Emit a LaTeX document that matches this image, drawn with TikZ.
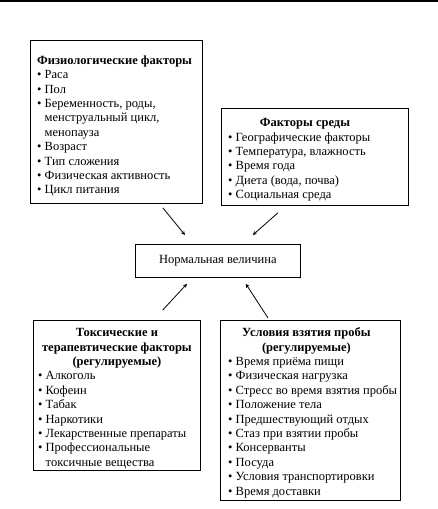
\documentclass[tikz,border=0pt]{standalone}
\usepackage{fontspec}
\setmainfont{Liberation Serif}
\usetikzlibrary{arrows,positioning,calc}

\newcommand{\bul}{\textbullet\ }
\newcommand{\hng}{\phantom{\textbullet\ }}

\begin{document}
\begin{tikzpicture}[x=1pt, y=-1pt,
    box/.style={draw, line width=0.8pt, inner sep=0pt, anchor=north west},
    txt/.style={inner sep=0pt, anchor=north west, align=left, font=\fontsize{12.5}{14.4}\selectfont},
    head/.style={inner sep=0pt, anchor=north, align=center, font=\fontsize{12.5}{14.4}\selectfont\bfseries},
    arrow/.style={->, >=stealth, line width=0.8pt}
]
\useasboundingbox (0,0) rectangle (438,509);

% rule at the top of the page
\draw[line width=2pt] (0,1) -- (438,1);

% Physiological factors
\node[box, minimum width=172pt, minimum height=163pt] (phys) at (30,40) {};
\node[txt] (physl) at ([xshift=7pt,yshift=-14pt]phys.north west)
  {\strut\textbf{Физиологические факторы}\\
   \bul Раса\\
   \bul Пол\\
   \bul Беременность, роды,\\
   \hng менструальный цикл,\\
   \hng менопауза\\
   \bul Возраст\\
   \bul Тип сложения\\
   \bul Физическая активность\\
   \bul Цикл питания};

% Environment factors
\node[box, minimum width=187pt, minimum height=97pt] (env) at (221,108) {};
\node[head] (envh) at ([xshift=-10pt,yshift=-8.5pt]env.north) {\strut Факторы среды};
\node[txt] (envl) at ([xshift=7pt,yshift=-22.9pt]env.north west)
  {\strut\bul Географические факторы\\
   \bul Температура, влажность\\
   \bul Время года\\
   \bul Диета (вода, почва)\\
   \bul Социальная среда};

% Normal value
\node[box, minimum width=165pt, minimum height=33pt, font=\fontsize{12.5}{14.4}\selectfont] (norm) at (135,244) {Нормальная величина};

% Toxic and therapeutic factors
\node[box, minimum width=167pt, minimum height=150pt] (tox) at (33,320) {};
\node[head] (toxh) at ([yshift=-6.5pt]tox.north) {\strut Токсические и\\ терапевтические факторы\\ (регулируемые)};
\node[txt] (toxl) at ([xshift=5pt,yshift=-49.7pt]tox.north west)
  {\strut\bul Алкоголь\\
   \bul Кофеин\\
   \bul Табак\\
   \bul Наркотики\\
   \bul Лекарственные препараты\\
   \bul Профессиональные\\
   \hng токсичные вещества};

% Sampling conditions
\node[box, minimum width=180pt, minimum height=180pt] (samp) at (220,320) {};
\node[head] (samph) at ([xshift=-4pt,yshift=-6.5pt]samp.north) {\strut Условия взятия пробы\\ (регулируемые)};
\node[txt] (sampl) at ([xshift=8pt,yshift=-35.3pt]samp.north west)
  {\strut\bul Время приёма пищи\\
   \bul Физическая нагрузка\\
   \bul Стресс во время взятия пробы\\
   \bul Положение тела\\
   \bul Предшествующий отдых\\
   \bul Стаз при взятии пробы\\
   \bul Консерванты\\
   \bul Посуда\\
   \bul Условия транспортировки\\
   \bul Время доставки};

% Arrows
\draw[arrow] ([xshift=-40pt,yshift=-4pt]phys.south east) -- ([xshift=50pt,yshift=9pt]norm.north west);
\draw[arrow] ([xshift=57pt,yshift=-7pt]env.south west) -- ([xshift=-48pt,yshift=9pt]norm.north east);
\draw[arrow] ([xshift=-38pt,yshift=10pt]tox.north east) -- ([xshift=52pt,yshift=-6pt]norm.south west);
\draw[arrow] ([xshift=48pt,yshift=2pt]samp.north west) -- ([xshift=-55pt,yshift=-6pt]norm.south east);

\end{tikzpicture}
\end{document}
